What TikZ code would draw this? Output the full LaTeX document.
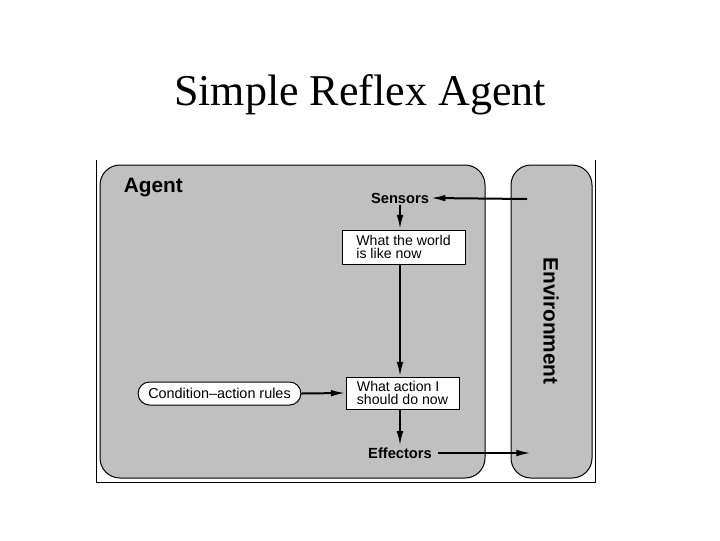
\documentclass[tikz,border=0pt]{standalone}
\usepackage{fontspec}
\setmainfont{Liberation Serif}
\setsansfont{Liberation Sans}
\usetikzlibrary{arrows.meta}

\tikzset{every picture/.style={line width=0.75pt}}
\tikzset{
	panel/.style={draw, fill={rgb, 255:red, 192; green, 192; blue, 192}, rounded corners=15pt},
	statebox/.style={draw, fill=white, align=left, inner sep=0pt,
		font=\sffamily\fontsize{10.6}{9.4}\selectfont},
	rulebox/.style={draw, fill=white, rounded corners=8.5pt, inner sep=0pt,
		minimum width=122pt, minimum height=17.25pt, font=\sffamily\fontsize{10.8}{12}\selectfont},
	bigword/.style={font=\sffamily\bfseries\fontsize{15.6}{18}\selectfont},
	smallword/.style={font=\sffamily\bfseries\fontsize{11}{13}\selectfont, inner sep=1pt},
	flow/.style={line width=1.5pt, -{Latex[length=11pt,width=5pt]}}
}

\begin{document}
\begin{tikzpicture}[x=0.75pt,y=0.75pt,yscale=-1,xscale=1]
	\useasboundingbox (0,0) rectangle (720,540);

	% Title
	\node (title) at (360,95) {\fontsize{33}{38}\selectfont Simple Reflex Agent};

	%Straight Lines: outer frame
	\draw (96,160) -- (96,482) -- (595,482) -- (595,160) ;
	%Shape: Rounded Rectangle (agent)
	\draw [panel] (100,165) rectangle (485,478) ;
	%Shape: Rounded Rectangle (environment)
	\draw [panel] (511,165) rectangle (592,478) ;

	% Text Node
	\node [bigword, anchor=west] (agent) at (119,188) {Agent};
	\node [bigword, rotate=-90] (env) at (551,321) {Environment};
	\node [smallword] (sensors) at (400,198) {Sensors};
	\node [smallword] (effectors) at (400,453) {Effectors};

	%Shape: Rectangle
	\node [statebox, minimum width=92.25pt, minimum height=25.5pt] (world) at (403.5,247)
		{What the world\\is like now};
	\node [statebox, minimum width=84.75pt, minimum height=24pt] (action) at (402.5,393)
		{What action I\\should do now};
	%Shape: Rounded Rectangle
	\node [rulebox] (rules) at (219.5,393.5) {Condition--action rules};

	% end points inside the environment
	\coordinate (envin) at (527,199);
	\coordinate (envout) at (531,453);

	%Straight Lines
	\draw [flow] (envin) -- (sensors.east) ;
	\draw [flow] (sensors.south) -- (sensors.south |- world.north) ;
	\draw [flow] (sensors.south |- world.south) -- (sensors.south |- action.north) ;
	\draw [flow] (rules.east) -- (action.west) ;
	\draw [flow] (sensors.south |- action.south) -- (effectors.north) ;
	\draw [flow, shorten <=3pt] (effectors.east) -- (envout) ;

\end{tikzpicture}
\end{document}
